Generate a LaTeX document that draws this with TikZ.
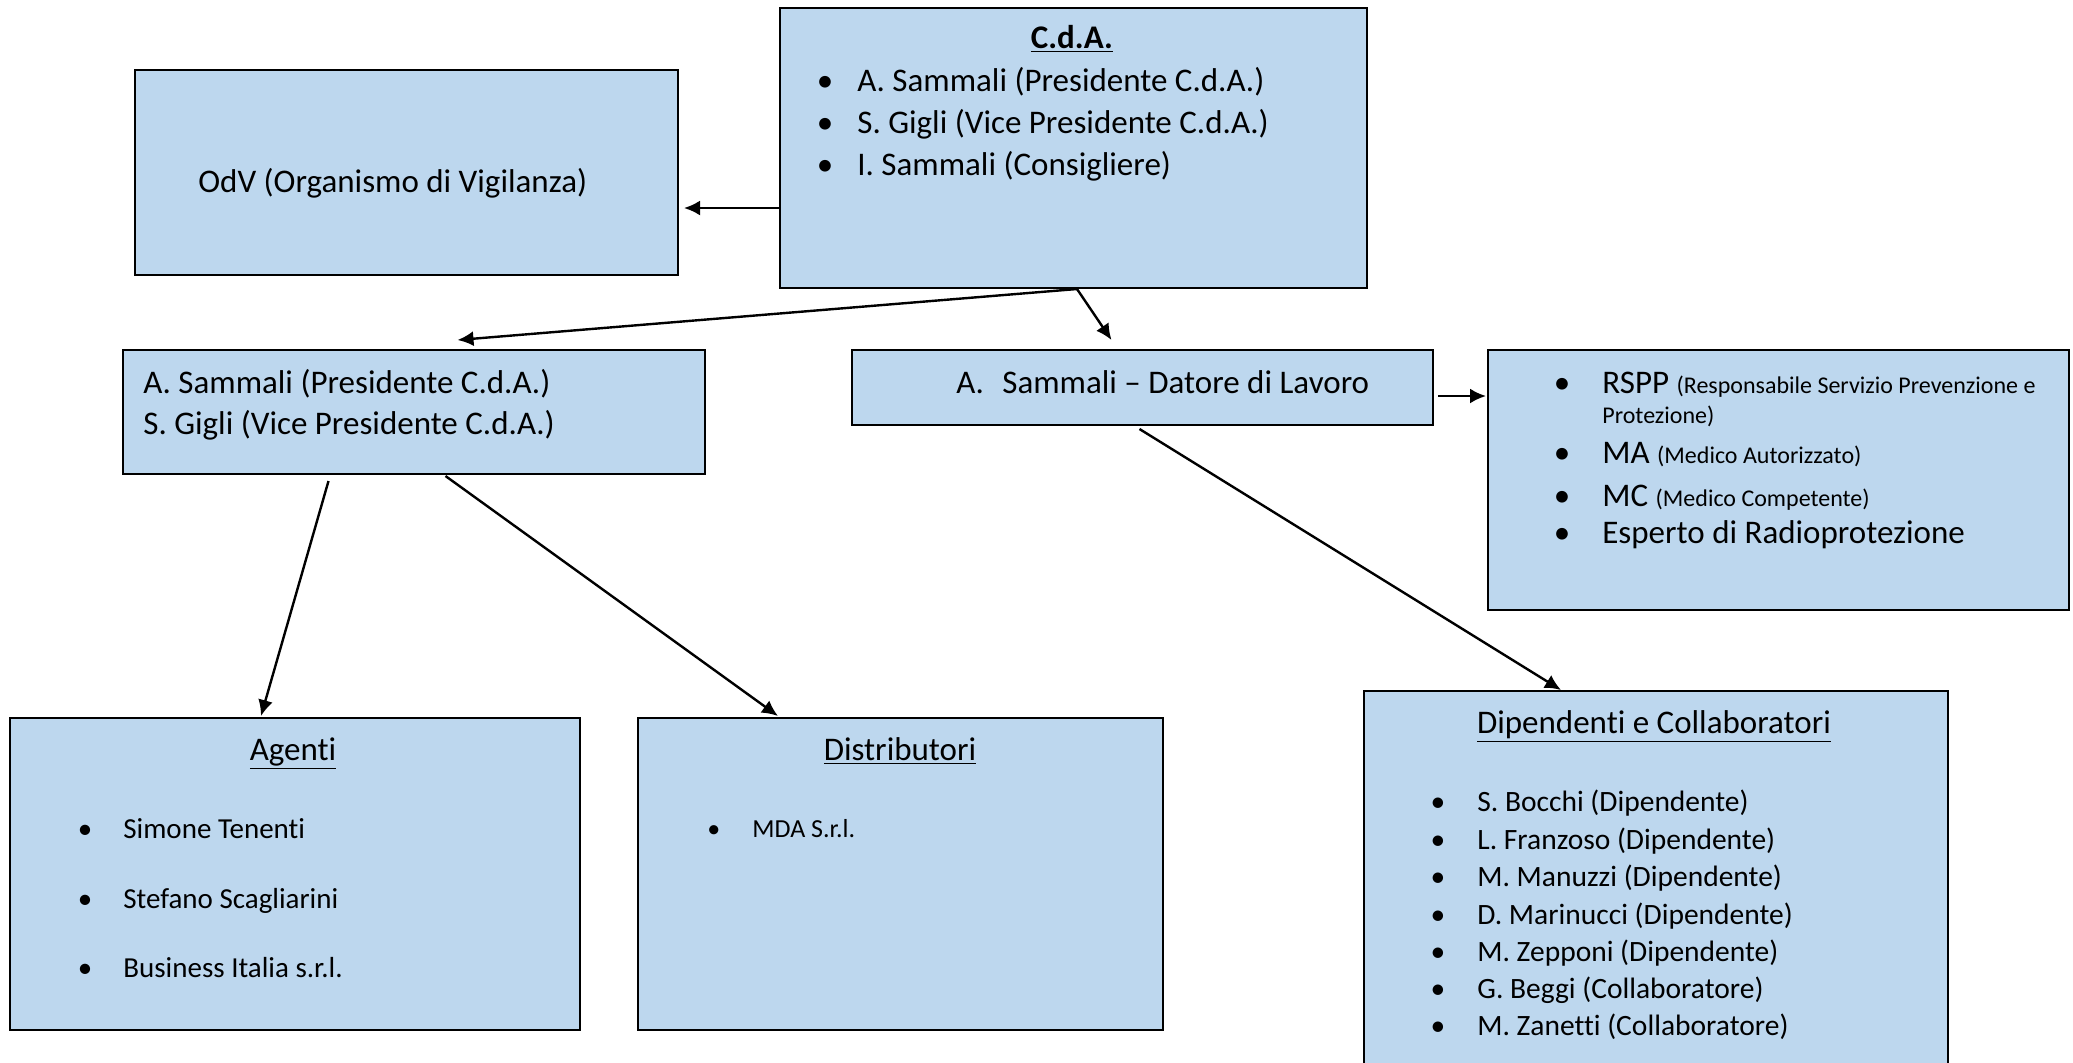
\documentclass[tikz,border=0pt]{standalone}
\usepackage{fontspec}
\setmainfont{Carlito}[Ligatures={NoCommon}]
\usepackage{xcolor}
\usetikzlibrary{arrows.meta}

\definecolor{boxblue}{RGB}{189,215,238}
\newcommand{\bul}[1]{\llap{\textbullet\hspace{#1}}}
\newcommand{\mainsz}{\fontsize{16.5}{20}\selectfont}
\newcommand{\notesz}{\fontsize{12}{14}\selectfont}

\tikzset{
  box/.style={draw, line width=1pt, fill=boxblue, anchor=north west, inner sep=0pt},
  txt/.style={anchor=base west, inner sep=0pt, font=\mainsz},
  head/.style={anchor=base, inner sep=0pt, font=\mainsz},
  conn/.style={line width=1.2pt, -{Latex[length=8pt,width=7.5pt]}},
}

\begin{document}
\begin{tikzpicture}[x=0.5pt,y=-0.5pt]
    \clip (0,0) rectangle (2073,1062);

    % boxes
    \node[box, minimum width=293.5pt, minimum height=140pt] (cda) at (779,7) {};
    \node[box, minimum width=271.5pt, minimum height=102.5pt] (odv) at (134,69) {};
    \node[box, minimum width=291pt, minimum height=62pt] (pres) at (122,349) {};
    \node[box, minimum width=290.5pt, minimum height=37.5pt] (datore) at (851,349) {};
    \node[box, minimum width=290.5pt, minimum height=130pt] (rspp) at (1487,349) {};
    \node[box, minimum width=285pt, minimum height=156pt] (agenti) at (9,717) {};
    \node[box, minimum width=262.5pt, minimum height=156pt] (distr) at (637,717) {};
    \node[box, minimum width=292pt, minimum height=200pt] (dip) at (1363,690) {};

    % C.d.A.
    \node[head, font=\mainsz\bfseries] (cdatitle) at (1072,48) {\underline{C.d.A.}};
    \node[txt] (cda1) at (857,91) {\bul{12pt}A. Sammali (Presidente C.d.A.)};
    \node[txt] (cda2) at (857,133) {\bul{12pt}S. Gigli (Vice Presidente C.d.A.)};
    \node[txt] (cda3) at (857,175) {\bul{12pt}I. Sammali (Consigliere)};

    % OdV
    \node[txt] (odvtext) at (198,192) {OdV (Organismo di Vigilanza)};

    % presidenza
    \node[txt] (pres1) at (143,393) {A. Sammali (Presidente C.d.A.)};
    \node[txt] (pres2) at (143,434) {S. Gigli (Vice Presidente C.d.A.)};

    % datore di lavoro
    \node[txt] (datoretext) at (956,393) {\makebox[23pt][l]{A.}Sammali – Datore di Lavoro};

    % sicurezza
    \node[txt] (rspp1) at (1602,393) {\bul{16pt}RSPP {\notesz (Responsabile Servizio Prevenzione e}};
    \node[txt, font=\notesz] (rspp2) at (1602,423) {Protezione)};
    \node[txt] (ma) at (1602,463) {\bul{16pt}MA {\notesz (Medico Autorizzato)}};
    \node[txt] (mc) at (1602,506) {\bul{16pt}MC {\notesz (Medico Competente)}};
    \node[txt] (esperto) at (1602,543) {\bul{16pt}Esperto di Radioprotezione};

    % agenti
    \node[head] (agentititle) at (293,760) {\underline{Agenti}};
    \node[txt, font=\fontsize{14.5}{17}\selectfont] (ag1) at (123,838) {\bul{15.5pt}Simone Tenenti};
    \node[txt, font=\fontsize{14.5}{17}\selectfont] (ag2) at (123,908) {\bul{15.5pt}Stefano Scagliarini};
    \node[txt, font=\fontsize{14.5}{17}\selectfont] (ag3) at (123,977) {\bul{15.5pt}Business Italia s.r.l.};

    % distributori
    \node[head] (distrtitle) at (900,760) {\underline{Distributori}};
    \node[txt, font=\fontsize{13}{16}\selectfont] (di1) at (752,837) {\bul{16pt}MDA S.r.l.};

    % dipendenti
    \node[head] (diptitle) at (1654,733) {\underline{Dipendenti e Collaboratori}};
    \node[txt, font=\fontsize{14.75}{18}\selectfont] (dp1) at (1477,811) {\bul{16pt}S. Bocchi (Dipendente)};
    \node[txt, font=\fontsize{14.75}{18}\selectfont] (dp2) at (1477,849) {\bul{16pt}L. Franzoso (Dipendente)};
    \node[txt, font=\fontsize{14.75}{18}\selectfont] (dp3) at (1477,886) {\bul{16pt}M. Manuzzi (Dipendente)};
    \node[txt, font=\fontsize{14.75}{18}\selectfont] (dp4) at (1477,924) {\bul{16pt}D. Marinucci (Dipendente)};
    \node[txt, font=\fontsize{14.75}{18}\selectfont] (dp5) at (1477,961) {\bul{16pt}M. Zepponi (Dipendente)};
    \node[txt, font=\fontsize{14.75}{18}\selectfont] (dp6) at (1477,998) {\bul{16pt}G. Beggi (Collaboratore)};
    \node[txt, font=\fontsize{14.75}{18}\selectfont] (dp7) at (1477,1035) {\bul{16pt}M. Zanetti (Collaboratore)};

    % connectors
    \coordinate (cdaout) at ([yshift=-30pt]cda.west);
    \coordinate (datout) at ([xshift=2pt,yshift=-4.25pt]datore.east);
    \draw[conn, shorten >=2.5pt] (cdaout) -- (cdaout -| odv.east);
    \draw[conn] ([xshift=1.75pt]cda.south) -- ([xshift=21.75pt,yshift=4.5pt]pres.north);
    \draw[conn] ([xshift=1.75pt]cda.south) -- ([xshift=-15.5pt,yshift=4.5pt]datore.north);
    \draw[conn, shorten >=0.5pt] (datout) -- (datout -| rspp.west);
    \draw[conn] ([xshift=-42.75pt,yshift=-3pt]pres.south) -- ([xshift=-17pt,yshift=0.5pt]agenti.north);
    \draw[conn] ([xshift=15.75pt,yshift=-0.5pt]pres.south) -- ([xshift=-61.25pt,yshift=0.5pt]distr.north);
    \draw[conn] ([xshift=-1.5pt,yshift=-1.5pt]datore.south) -- ([xshift=-47.5pt]dip.north);
\end{tikzpicture}
\end{document}
